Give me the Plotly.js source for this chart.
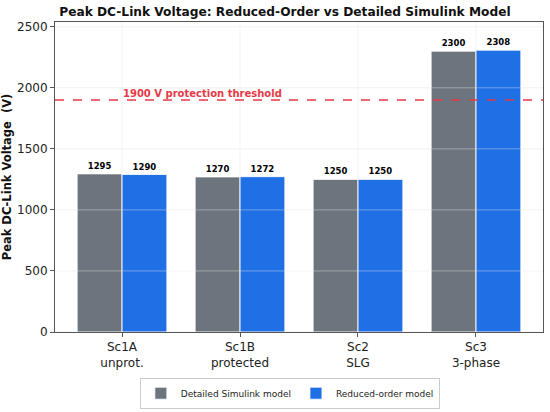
<!DOCTYPE html>
<html><head><meta charset="utf-8">
<script src="https://cdn.plot.ly/plotly-3.0.1.min.js"></script>
<style>html,body{margin:0;padding:0;background:#fff;}#chart{width:550px;height:412px;}</style>
</head><body><div id="chart"></div>
<script>
const categories = ["Sc1A<br>unprot.", "Sc1B<br>protected", "Sc2<br>SLG", "Sc3<br>3-phase"];
const detailedValues = [1295, 1270, 1250, 2300];
const reducedValues = [1290, 1272, 1250, 2308];
const thresholdValue = 1900;
const thresholdLabel = "1900 V protection threshold";
const yTicks = [0, 500, 1000, 1500, 2000, 2500];

const font = "DejaVu Sans, sans-serif";
const gridColor = "rgba(225,225,225,0.55)";

const traces = [
  {type: "bar", name: "Detailed Simulink model", x: categories, y: detailedValues,
   marker: {color: "#6c757d", line: {color: "#ffffff", width: 0.8}},
   text: detailedValues.map(String), textposition: "outside", cliponaxis: false,
   textfont: {family: font, size: 8.5, color: "#000", weight: "bold"}},
  {type: "bar", name: "Reduced-order model", x: categories, y: reducedValues,
   marker: {color: "#1f6fe5", line: {color: "#ffffff", width: 0.8}},
   text: reducedValues.map(String), textposition: "outside", cliponaxis: false,
   textfont: {family: font, size: 8.5, color: "#000", weight: "bold"}}
];

const shapes = [];
yTicks.forEach(v => shapes.push({type: "line", xref: "paper", x0: 0, x1: 1, yref: "y", y0: v, y1: v,
  line: {color: gridColor, width: 0.8}, layer: "above"}));
categories.forEach(c => shapes.push({type: "line", xref: "x", x0: c, x1: c, yref: "paper", y0: 0, y1: 1,
  line: {color: gridColor, width: 0.8}, layer: "above"}));
shapes.push({type: "line", xref: "paper", x0: 0, x1: 1, yref: "y", y0: thresholdValue, y1: thresholdValue,
  line: {color: "#e63946", width: 1.6, dash: "dash"}, layer: "above"});

const layout = {
  width: 550, height: 412,
  margin: {l: 55, r: 7, t: 22, b: 80},
  paper_bgcolor: "#fff", plot_bgcolor: "#fff",
  font: {family: font, color: "#222", size: 11},
  title: {text: "<b>Peak DC-Link Voltage: Reduced-Order vs Detailed Simulink Model</b>",
    font: {family: font, size: 12.2, color: "#111"}, x: 0.518, xanchor: "center", y: 0.982, yanchor: "top"},
  barmode: "group", bargap: 0.24, bargroupgap: 0,
  xaxis: {type: "category", range: [-0.568, 3.568], showgrid: false, showline: true, mirror: true,
    linecolor: "#555", linewidth: 1, ticks: "outside", ticklen: 4, tickcolor: "#555", automargin: false,
    tickfont: {family: font, size: 12, color: "#222"}, zeroline: false},
  yaxis: {range: [0, 2539], tickvals: yTicks, showgrid: false, showline: true, mirror: true,
    linecolor: "#555", linewidth: 1, ticks: "outside", ticklen: 4, tickcolor: "#555", automargin: false,
    tickfont: {family: font, size: 12, color: "#222"}, zeroline: false,
    title: {text: "<b>Peak DC-Link Voltage  (V)</b>", font: {family: font, size: 11.5, color: "#111"}, standoff: 8}},
  legend: {orientation: "h", xref: "container", yref: "container", x: 0.527, xanchor: "center", y: 0.008, yanchor: "bottom",
    bordercolor: "#ccc", borderwidth: 1, font: {family: font, size: 9, color: "#222"}, traceorder: "normal",
    tracegroupgap: 0, itemwidth: 30},
  shapes: shapes,
  annotations: [{xref: "x", yref: "y", x: -0.01, y: thresholdValue, xanchor: "left", yanchor: "bottom",
    text: "<b>" + thresholdLabel + "</b>", showarrow: false, yshift: -1,
    font: {family: font, size: 10, color: "#e63946"}}]
};

Plotly.newPlot("chart", traces, layout, {displayModeBar: false, staticPlot: true});
</script></body></html>
